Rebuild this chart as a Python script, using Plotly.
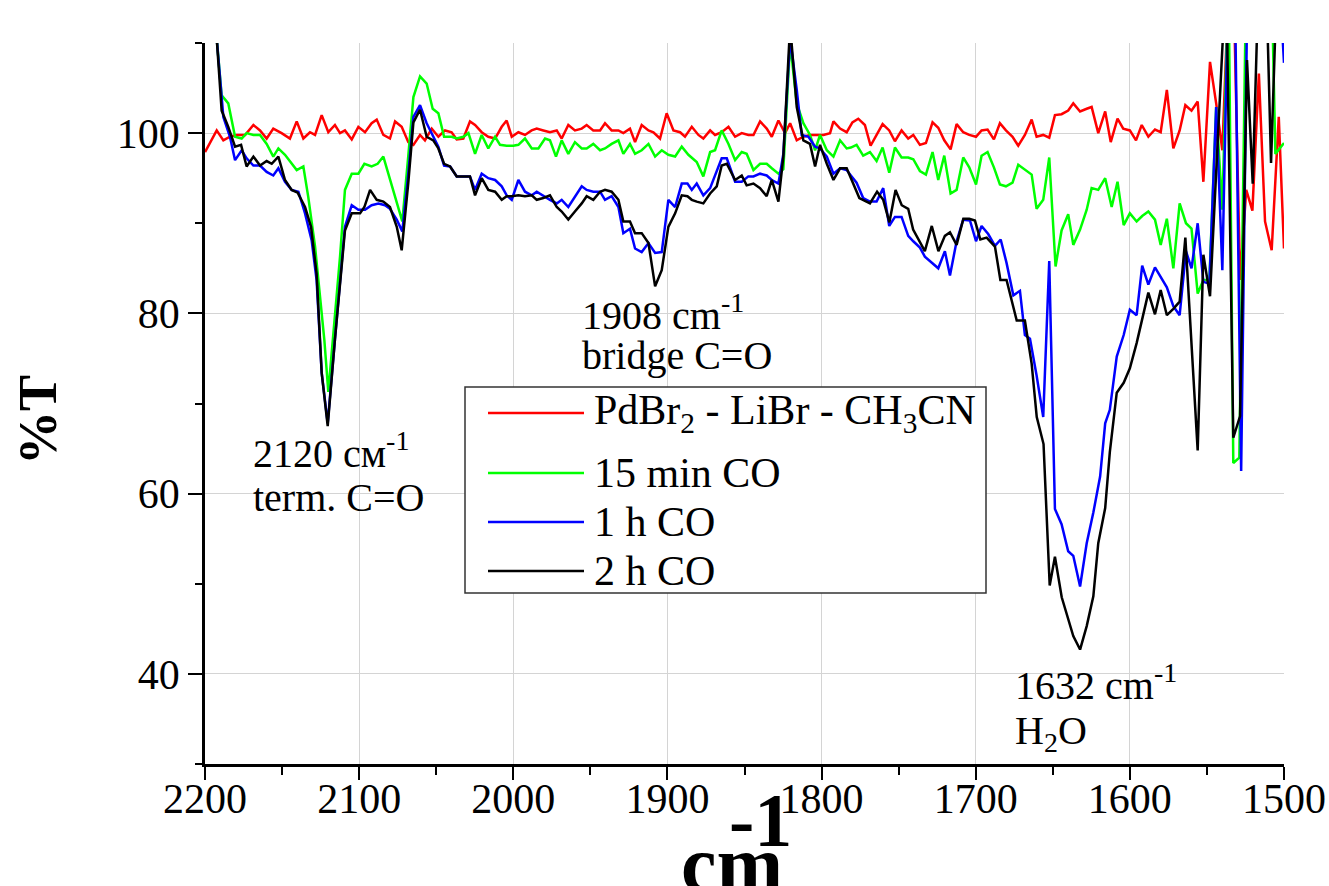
import plotly.graph_objects as go

# ---------------- data ----------------
red_x = [2200.0, 2192.4, 2188.1, 2183.8, 2179.5, 2174.0, 2168.6, 2164.3, 2160.0, 2155.7, 2150.3, 2144.9,
         2140.5, 2136.2, 2131.9, 2128.6, 2124.3, 2120.0, 2115.7, 2112.4, 2109.2, 2104.8, 2100.5, 2096.2,
         2091.9, 2088.6, 2084.3, 2080.0, 2076.7, 2072.4, 2068.1, 2064.8, 2060.5, 2057.3, 2052.9, 2048.6,
         2044.3, 2040.0, 2036.7, 2032.4, 2028.1, 2024.8, 2020.5, 2016.2, 2011.8, 2007.5, 2004.3, 2001.0,
         1996.7, 1992.4, 1988.1, 1984.8, 1980.5, 1976.2, 1971.8, 1968.6, 1964.3, 1960.0, 1955.6, 1952.4,
         1948.1, 1943.7, 1940.5, 1936.2, 1931.8, 1928.6, 1924.3, 1921.0, 1916.7, 1912.3, 1909.1, 1904.8,
         1900.5, 1896.1, 1891.8, 1888.6, 1884.2, 1879.9, 1876.7, 1872.3, 1869.1, 1864.8, 1860.4, 1856.1,
         1851.8, 1847.5, 1844.2, 1839.9, 1835.6, 1832.3, 1828.0, 1823.7, 1820.4, 1816.1, 1811.8, 1807.5,
         1803.1, 1798.8, 1794.5, 1792.3, 1788.0, 1783.7, 1780.0, 1776.2, 1771.9, 1768.2, 1764.3, 1760.4,
         1756.1, 1752.4, 1748.1, 1743.8, 1740.5, 1736.2, 1732.3, 1728.0, 1724.3, 1720.4, 1716.3, 1712.4,
         1708.1, 1704.2, 1699.8, 1696.2, 1692.3, 1688.2, 1684.3, 1680.4, 1676.1, 1672.4, 1668.1, 1663.7,
         1660.5, 1656.2, 1652.3, 1648.6, 1644.3, 1640.0, 1636.7, 1632.3, 1628.0, 1624.8, 1620.5, 1616.0,
         1612.4, 1608.0, 1604.3, 1600.0, 1596.0, 1592.3, 1588.0, 1583.7, 1580.0, 1576.0, 1571.8, 1567.7,
         1564.0, 1560.0, 1556.0, 1552.3, 1548.0, 1544.0, 1540.0, 1536.0, 1532.4, 1528.5, 1524.5, 1520.5,
         1516.3, 1512.3, 1508.0, 1503.4, 1500.0]
red_y = [97.9, 100.3, 99.2, 99.6, 99.8, 99.8, 100.9, 100.3, 99.4, 100.5, 100.0, 99.4,
         101.3, 99.4, 100.1, 99.8, 102.0, 100.1, 100.9, 100.0, 100.3, 99.3, 100.7, 100.1,
         101.1, 101.5, 99.8, 99.4, 101.3, 100.7, 99.0, 98.7, 99.8, 99.2, 100.5, 99.6,
         100.3, 100.1, 99.3, 99.4, 101.3, 100.9, 100.1, 99.6, 99.4, 100.7, 101.4, 99.6,
         100.1, 99.8, 100.3, 100.5, 100.3, 100.1, 100.3, 99.4, 100.9, 100.3, 100.5, 100.9,
         100.3, 100.3, 101.1, 100.3, 100.3, 100.0, 100.5, 99.0, 100.9, 100.3, 100.1, 99.4,
         102.2, 100.3, 100.1, 99.6, 100.7, 99.8, 99.4, 100.3, 99.8, 100.1, 100.7, 99.6,
         100.0, 99.8, 99.8, 101.3, 100.5, 99.6, 101.4, 100.0, 101.1, 99.2, 99.6, 99.8,
         99.8, 99.8, 100.0, 101.3, 100.5, 100.1, 101.2, 101.6, 100.9, 98.6, 99.8, 101.0,
         100.3, 99.1, 100.3, 99.4, 99.8, 98.7, 98.9, 101.2, 100.6, 99.2, 98.2, 101.0,
         100.1, 99.8, 99.6, 100.3, 100.4, 99.3, 101.1, 100.3, 99.6, 98.6, 99.8, 101.5,
         99.6, 99.8, 99.5, 102.0, 102.1, 102.5, 103.3, 102.4, 102.7, 102.9, 100.0, 102.4,
         99.0, 101.6, 100.5, 100.3, 99.2, 100.9, 99.6, 100.4, 100.1, 104.8, 98.3, 100.3,
         103.1, 102.5, 103.5, 94.6, 107.9, 103.3, 98.1, 116.0, 114.0, 83.7, 93.7, 91.4,
         106.6, 90.2, 87.0, 101.8, 87.2]

green_x = [2196.3, 2192.4, 2189.2, 2184.9, 2180.5, 2176.2, 2173.0, 2168.6, 2164.3, 2160.0, 2155.7, 2152.4,
           2148.1, 2143.8, 2140.5, 2136.2, 2133.0, 2128.6, 2125.4, 2122.6, 2120.0, 2116.7, 2112.4, 2109.2,
           2104.8, 2100.5, 2096.6, 2091.9, 2088.0, 2084.3, 2080.0, 2075.6, 2072.0, 2068.1, 2064.8, 2060.5,
           2056.2, 2052.3, 2048.6, 2044.9, 2040.0, 2036.7, 2032.4, 2029.1, 2024.8, 2020.5, 2016.2, 2011.8,
           2008.6, 2004.3, 2000.0, 1996.7, 1992.4, 1988.0, 1983.7, 1979.4, 1976.2, 1972.3, 1968.6, 1964.3,
           1960.0, 1955.6, 1952.4, 1948.1, 1943.7, 1940.5, 1936.2, 1931.8, 1928.6, 1924.3, 1921.0, 1916.7,
           1912.3, 1908.0, 1903.7, 1899.4, 1895.0, 1890.7, 1886.4, 1881.0, 1876.7, 1872.3, 1869.1, 1864.8,
           1860.4, 1856.1, 1851.8, 1848.6, 1844.2, 1839.9, 1835.6, 1832.3, 1828.0, 1824.8, 1820.4, 1816.1,
           1811.8, 1807.5, 1804.2, 1801.0, 1796.6, 1792.3, 1788.0, 1783.7, 1781.0, 1777.3, 1773.0, 1768.6,
           1764.3, 1760.4, 1756.1, 1752.4, 1748.1, 1743.8, 1740.5, 1736.2, 1732.3, 1728.0, 1724.3, 1720.4,
           1716.3, 1712.4, 1708.1, 1704.2, 1699.8, 1696.2, 1692.3, 1688.2, 1684.3, 1680.4, 1676.1, 1672.4,
           1668.1, 1663.7, 1660.5, 1656.2, 1652.3, 1648.2, 1644.3, 1640.0, 1636.7, 1632.3, 1628.0, 1624.8,
           1620.5, 1616.0, 1611.8, 1608.0, 1604.0, 1600.0, 1595.6, 1592.0, 1588.0, 1583.7, 1580.0, 1576.0,
           1571.8, 1567.7, 1563.6, 1560.0, 1556.0, 1552.3, 1548.4, 1544.0, 1540.0, 1536.0, 1532.9, 1529.0,
           1524.5, 1520.5, 1516.3, 1512.3, 1508.4, 1505.6, 1500.0]
green_y = [140.0, 110.5, 104.2, 103.3, 99.6, 99.4, 100.0, 99.8, 99.8, 98.8, 97.4, 98.3,
           97.6, 96.6, 95.9, 96.3, 92.9, 87.4, 82.2, 77.1, 71.3, 77.8, 86.3, 93.7,
           95.5, 95.5, 96.6, 96.3, 96.6, 97.4, 94.8, 92.2, 90.2, 97.5, 104.0, 106.3,
           105.5, 102.7, 102.2, 99.6, 99.6, 99.4, 99.6, 100.0, 97.7, 99.8, 98.3, 99.6,
           98.7, 98.6, 98.6, 98.7, 99.4, 98.3, 98.3, 99.4, 99.2, 97.4, 99.2, 97.7,
           99.0, 98.3, 98.3, 98.8, 98.1, 98.3, 98.8, 99.2, 97.7, 98.8, 97.7, 98.1,
           98.8, 97.4, 98.1, 97.6, 97.4, 98.5, 97.6, 96.8, 95.2, 97.9, 98.1, 100.3,
           98.8, 97.0, 97.9, 97.7, 95.9, 96.6, 96.6, 96.1, 95.5, 96.0, 110.0, 103.3,
           101.1, 99.8, 98.1, 99.8, 98.1, 97.4, 99.2, 98.3, 98.4, 98.7, 97.5, 97.9,
           96.9, 98.4, 95.6, 98.4, 97.3, 97.3, 97.1, 95.8, 95.4, 97.9, 94.8, 97.5,
           93.3, 93.7, 97.3, 96.2, 94.3, 97.5, 97.9, 96.2, 94.3, 94.1, 94.5, 96.5,
           96.0, 95.4, 91.6, 92.6, 97.3, 85.2, 89.2, 91.0, 87.6, 89.3, 91.5, 93.9,
           93.7, 95.0, 91.8, 94.6, 89.8, 91.1, 90.2, 90.8, 91.3, 90.4, 87.6, 90.5,
           85.0, 92.2, 90.0, 89.4, 82.2, 83.7, 83.7, 102.9, 91.5, 118.0, 63.4, 64.0,
           118.0, 120.0, 120.0, 120.0, 120.0, 97.7, 98.9]

blue_x = [2196.3, 2192.4, 2188.1, 2183.8, 2180.5, 2176.2, 2173.0, 2168.6, 2164.3, 2160.0, 2155.7, 2152.4,
          2148.1, 2143.8, 2139.4, 2135.1, 2130.8, 2127.6, 2124.3, 2120.4, 2115.7, 2109.2, 2104.8, 2100.5,
          2096.2, 2091.9, 2087.5, 2083.2, 2080.0, 2075.6, 2072.0, 2068.1, 2064.8, 2060.5, 2056.2, 2051.9,
          2048.6, 2044.9, 2041.0, 2036.7, 2032.4, 2028.1, 2024.8, 2020.5, 2016.2, 2011.8, 2007.5, 2004.3,
          2001.0, 1996.7, 1992.4, 1988.0, 1984.8, 1980.5, 1976.2, 1971.8, 1968.6, 1964.3, 1960.0, 1955.6,
          1952.4, 1948.1, 1943.7, 1940.5, 1936.2, 1931.8, 1928.6, 1924.3, 1921.0, 1916.7, 1912.3, 1908.0,
          1903.7, 1899.4, 1895.0, 1890.7, 1887.0, 1884.2, 1881.0, 1876.7, 1872.3, 1868.0, 1864.8, 1861.5,
          1856.1, 1851.8, 1847.5, 1844.2, 1839.9, 1835.6, 1832.3, 1828.0, 1824.8, 1820.4, 1816.1, 1812.9,
          1808.5, 1804.2, 1801.0, 1796.6, 1792.3, 1788.0, 1783.7, 1781.0, 1777.3, 1773.0, 1768.6, 1764.3,
          1760.0, 1756.1, 1752.4, 1748.1, 1743.8, 1740.5, 1736.2, 1733.0, 1728.6, 1724.3, 1720.0, 1716.7,
          1712.4, 1708.1, 1703.7, 1699.8, 1696.2, 1691.9, 1687.5, 1683.8, 1680.0, 1675.6, 1671.3, 1668.1,
          1664.8, 1660.5, 1656.2, 1652.3, 1648.6, 1644.3, 1640.0, 1636.7, 1632.3, 1628.0, 1623.7, 1619.3,
          1616.0, 1613.0, 1608.5, 1604.0, 1600.0, 1595.6, 1592.0, 1588.0, 1583.7, 1580.0, 1576.0, 1571.8,
          1567.7, 1563.6, 1560.0, 1556.0, 1552.3, 1548.4, 1544.0, 1540.0, 1536.0, 1532.0, 1527.8, 1523.6,
          1520.0, 1516.0, 1512.0, 1508.0, 1504.0, 1500.0]
blue_y = [140.0, 110.5, 101.8, 99.6, 97.0, 98.1, 97.2, 96.4, 96.4, 95.7, 95.3, 96.1,
          94.6, 93.7, 93.5, 91.1, 88.1, 83.7, 73.4, 67.8, 77.1, 89.6, 92.0, 91.5,
          91.5, 92.0, 92.2, 92.0, 91.6, 90.4, 89.1, 95.5, 101.8, 103.1, 101.1, 99.6,
          98.5, 96.4, 96.3, 95.2, 95.2, 95.2, 93.7, 95.5, 95.0, 94.8, 94.1, 93.1,
          92.6, 94.8, 93.5, 93.1, 93.5, 93.0, 92.6, 92.2, 92.6, 91.8, 93.0, 94.1,
          93.7, 93.5, 93.5, 92.6, 93.0, 91.8, 88.9, 89.4, 87.2, 86.8, 87.8, 86.7,
          86.8, 92.6, 91.8, 94.4, 94.4, 93.7, 94.4, 93.1, 93.9, 95.7, 97.2, 97.2,
          94.6, 94.6, 95.2, 95.2, 95.5, 95.3, 94.8, 94.4, 97.7, 110.5, 104.8, 99.8,
          99.6, 98.5, 98.3, 97.4, 95.5, 96.1, 95.9, 95.3, 94.5, 92.8, 92.4, 92.4,
          93.9, 89.7, 90.7, 90.7, 88.6, 88.0, 87.3, 86.3, 85.6, 85.0, 86.9, 84.2,
          88.0, 90.4, 90.3, 88.0, 89.7, 88.8, 87.5, 88.2, 85.6, 82.0, 82.5, 77.6,
          77.2, 73.1, 68.5, 85.8, 58.3, 56.6, 53.6, 53.1, 49.7, 54.5, 57.9, 61.9,
          67.8, 69.3, 75.2, 77.6, 80.4, 79.8, 85.3, 83.2, 85.1, 84.0, 82.9, 80.8,
          79.8, 86.9, 85.0, 90.0, 83.5, 83.3, 102.9, 84.8, 118.0, 118.0, 62.5, 118.0,
          120.0, 120.0, 120.0, 120.0, 120.0, 107.8]

black_x = [2196.3, 2192.4, 2189.2, 2184.9, 2180.5, 2176.6, 2173.0, 2168.6, 2164.3, 2160.0, 2156.7, 2152.4,
           2148.1, 2143.8, 2139.9, 2135.1, 2131.2, 2127.6, 2124.3, 2120.4, 2115.7, 2109.2, 2104.8, 2099.4,
           2096.6, 2092.9, 2088.6, 2084.3, 2080.0, 2075.6, 2072.4, 2068.1, 2064.8, 2060.5, 2056.2, 2051.9,
           2048.6, 2044.9, 2041.0, 2036.7, 2032.4, 2028.1, 2024.8, 2020.5, 2016.2, 2011.8, 2007.5, 2004.3,
           2001.0, 1996.7, 1992.4, 1988.0, 1984.8, 1980.5, 1976.2, 1971.8, 1968.6, 1964.3, 1960.0, 1955.6,
           1952.4, 1948.1, 1943.7, 1940.5, 1936.2, 1931.8, 1928.6, 1924.3, 1921.0, 1916.7, 1912.3, 1908.0,
           1903.7, 1899.4, 1895.0, 1890.7, 1887.0, 1884.2, 1881.0, 1876.7, 1872.3, 1868.0, 1864.8, 1861.5,
           1856.1, 1851.8, 1848.6, 1844.2, 1839.9, 1835.6, 1832.3, 1828.0, 1824.8, 1820.4, 1816.1, 1811.8,
           1807.5, 1804.2, 1801.0, 1796.6, 1792.3, 1788.0, 1783.7, 1779.5, 1775.5, 1768.6, 1764.0, 1760.0,
           1756.0, 1752.0, 1748.0, 1743.8, 1740.6, 1733.0, 1728.5, 1724.2, 1720.0, 1716.7, 1712.4, 1708.0,
           1704.2, 1700.5, 1697.0, 1692.9, 1687.5, 1684.0, 1680.0, 1673.4, 1668.1, 1663.7, 1660.4, 1656.0,
           1652.0, 1648.6, 1644.2, 1636.7, 1632.3, 1628.0, 1623.7, 1620.5, 1616.0, 1613.0, 1608.5, 1604.0,
           1600.0, 1595.6, 1592.0, 1588.0, 1583.7, 1580.0, 1576.0, 1571.8, 1567.7, 1564.0, 1556.0, 1552.3,
           1548.0, 1537.5, 1532.9, 1528.5, 1524.0, 1520.3, 1516.0, 1512.0, 1508.4, 1504.0, 1500.0]
black_y = [140.0, 110.5, 102.5, 100.7, 98.5, 98.7, 96.3, 97.4, 96.4, 96.9, 96.6, 97.4,
           94.8, 93.7, 93.4, 91.8, 89.6, 84.4, 73.4, 67.5, 77.1, 89.2, 91.1, 91.1,
           91.8, 93.7, 92.6, 92.4, 91.8, 89.6, 87.0, 94.5, 101.2, 102.6, 99.6, 99.2,
           98.3, 96.6, 96.3, 95.2, 95.2, 95.2, 93.1, 95.0, 93.7, 93.5, 92.6, 93.0,
           93.0, 93.1, 93.0, 93.1, 92.6, 92.8, 93.1, 91.8, 91.3, 90.4, 91.3, 92.2,
           93.0, 92.6, 93.5, 93.7, 93.5, 92.6, 90.2, 90.2, 88.9, 88.9, 87.8, 83.0,
           84.8, 89.6, 91.1, 93.1, 93.0, 92.6, 92.4, 92.2, 93.3, 94.1, 96.4, 96.6,
           94.8, 95.3, 94.2, 94.4, 93.9, 93.0, 94.8, 92.4, 97.4, 112.0, 102.9, 99.2,
           98.8, 96.3, 98.7, 96.6, 94.8, 96.1, 96.1, 94.3, 92.8, 92.2, 93.5, 92.6,
           90.1, 93.7, 92.0, 91.6, 89.3, 86.9, 89.7, 86.9, 88.6, 89.0, 87.6, 90.5,
           90.5, 90.3, 88.2, 88.4, 87.4, 83.7, 83.7, 79.2, 79.2, 74.4, 68.5, 65.5,
           49.8, 53.0, 48.5, 44.2, 42.7, 45.3, 48.6, 54.5, 58.4, 64.6, 71.2, 72.3,
           73.9, 76.7, 79.5, 82.3, 79.9, 82.6, 79.8, 80.5, 81.3, 88.4, 64.8, 86.5,
           81.9, 118.0, 66.2, 68.6, 108.1, 94.4, 120.0, 120.0, 96.7, 120.0, 120.0]

series_names = ["PdBr<sub>2</sub> - LiBr - CH<sub>3</sub>CN", "15 min CO", "1 h CO", "2 h CO"]
series_colors = ["#ff0000", "#00ff00", "#0000ff", "#000000"]
x_ticks = [2200, 2100, 2000, 1900, 1800, 1700, 1600, 1500]
y_ticks = [40, 60, 80, 100]

# ---------------- figure ----------------
W, H = 1329, 886
L, R, T, B = 205, 45, 43, 122
PW, PH = W - L - R, H - T - B
FONT = "Liberation Serif, Times New Roman, serif"


def px(xp):
    return (xp - L) / PW


def py(yp):
    return (H - B - yp) / PH


fig = go.Figure()
for xs, ys, name, col in zip([red_x, green_x, blue_x, black_x], [red_y, green_y, blue_y, black_y],
                             series_names, series_colors):
    fig.add_trace(go.Scatter(x=xs, y=ys, mode="lines", name=name,
                             line=dict(color=col, width=2.5), showlegend=False))

fig.update_layout(
    width=W, height=H,
    margin=dict(l=L, r=R, t=T, b=B, autoexpand=False),
    paper_bgcolor="white", plot_bgcolor="white",
    font=dict(family=FONT, size=42, color="black"),
    showlegend=False,
)
fig.update_xaxes(
    range=[2200, 1500], tickvals=x_ticks, ticktext=[str(v) for v in x_ticks],
    ticks="outside", ticklen=13, tickwidth=2, tickcolor="black", ticklabelstandoff=-17,
    minor=dict(dtick=50, ticks="outside", ticklen=8, tickwidth=2, tickcolor="black", showgrid=False),
    showline=True, linecolor="black", linewidth=2.5, automargin=False,
    showgrid=True, gridcolor="#d4d4d4", gridwidth=1, zeroline=False,
    tickfont=dict(family=FONT, size=42, color="black"),
)
fig.update_yaxes(
    range=[30, 110], tickvals=y_ticks, ticktext=[str(v) for v in y_ticks],
    ticks="outside", ticklen=14, tickwidth=2, tickcolor="black",
    minor=dict(tickvals=[30, 50, 70, 90, 110], ticks="outside", ticklen=7, tickwidth=2,
               tickcolor="black", showgrid=False),
    showline=True, linecolor="black", linewidth=2.5, automargin=False,
    showgrid=True, gridcolor="#d4d4d4", gridwidth=1, zeroline=False,
    tickfont=dict(family=FONT, size=42, color="black"),
)

annotations = []
# axis titles
annotations.append(dict(text="<b>%T</b>", textangle=-90, x=px(38), y=py(420), xref="paper", yref="paper",
                        showarrow=False, font=dict(family=FONT, size=54, color="black"),
                        xanchor="center", yanchor="middle"))
annotations.append(dict(text="<b>cm</b>", x=px(679), y=py(910), xref="paper", yref="paper",
                        showarrow=False, font=dict(family=FONT, size=80, color="black"),
                        xanchor="left", yanchor="bottom"))
annotations.append(dict(text="<b>-1</b>", x=px(727), y=py(864), xref="paper", yref="paper",
                        showarrow=False, font=dict(family=FONT, size=76, color="black"),
                        xanchor="left", yanchor="bottom"))

# peak labels
ann_font = dict(family=FONT, size=40, color="black")
peak_labels = [
    ("2120 см<sup>-1</sup>", 251, 478),
    ("term. C=O", 251, 522),
    ("1908 cm<sup>-1</sup>", 580, 340),
    ("bridge C=O", 580, 380),
    ("1632 cm<sup>-1</sup>", 1013, 710),
    ("H<sub>2</sub>O", 1013, 760),
]
for txt, xx, yy in peak_labels:
    annotations.append(dict(text=txt, x=px(xx), y=py(yy), xref="paper", yref="paper", showarrow=False,
                            font=ann_font, xanchor="left", yanchor="bottom"))

# legend (drawn box with line samples)
shapes = [dict(type="rect", xref="paper", yref="paper", x0=px(465), x1=px(986), y0=py(593), y1=py(387),
               line=dict(color="#333333", width=1.5), fillcolor="white", layer="above")]
legend_rows = [413, 473, 522, 571]
for name, col, yy in zip(series_names, series_colors, legend_rows):
    shapes.append(dict(type="line", xref="paper", yref="paper", x0=px(488), x1=px(584), y0=py(yy), y1=py(yy),
                       line=dict(color=col, width=2.5), layer="above"))
    annotations.append(dict(text=name, x=px(592), y=py(yy), xref="paper", yref="paper", showarrow=False,
                            font=dict(family=FONT, size=42, color="black"), xanchor="left", yanchor="middle"))

fig.update_layout(annotations=annotations, shapes=shapes)
fig.write_html("out.html")
